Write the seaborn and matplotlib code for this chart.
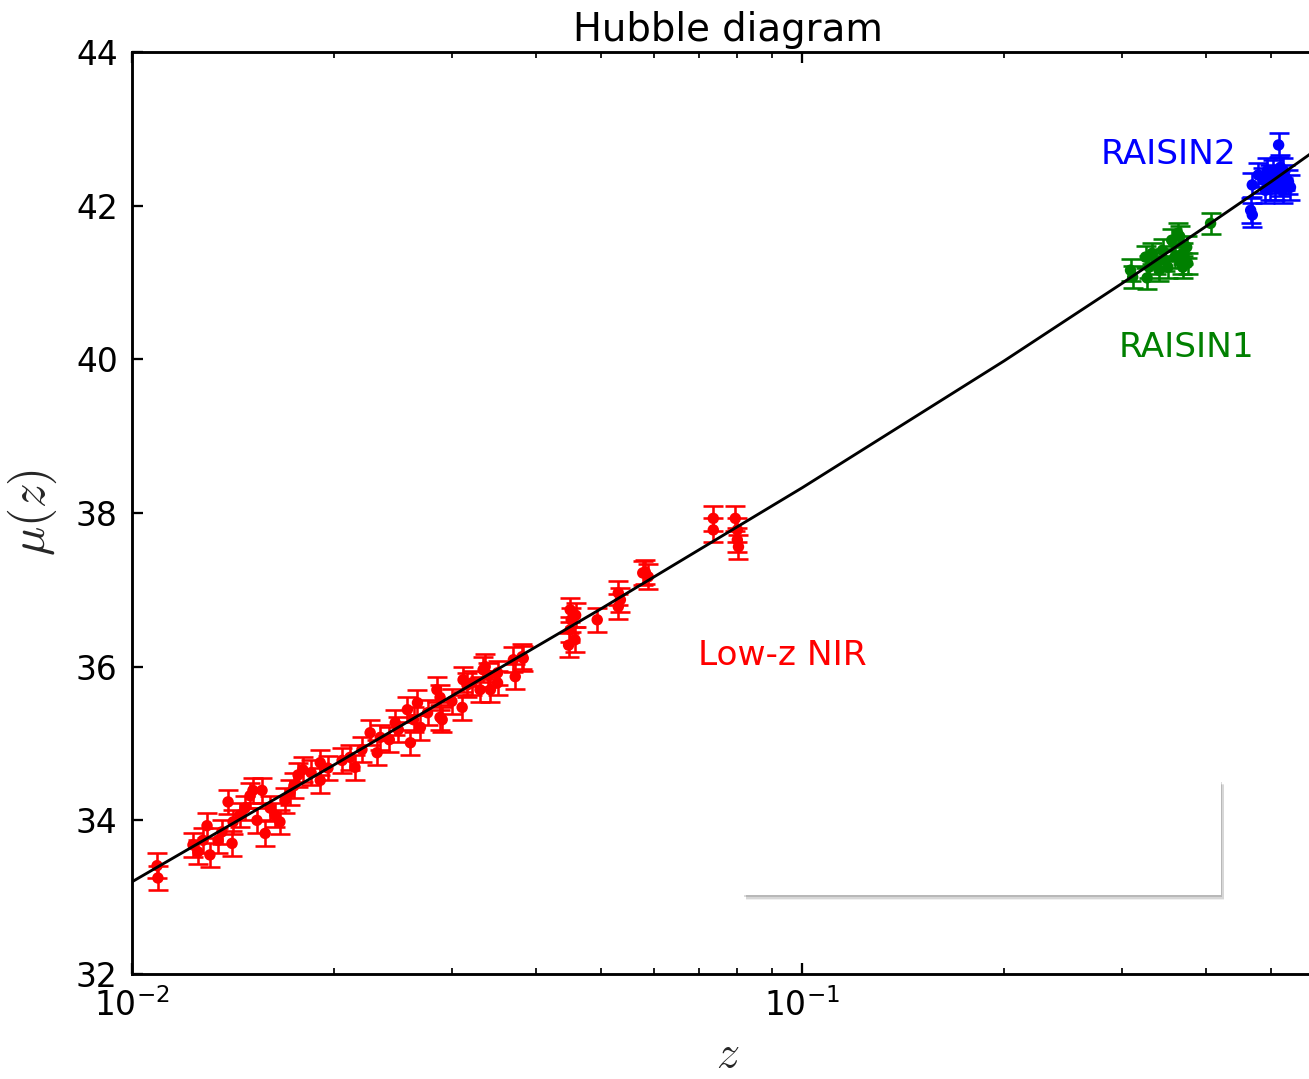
import numpy as np
import pandas as pd
import matplotlib
matplotlib.use("Agg")
import matplotlib.pyplot as plt
import matplotlib.patheffects as pe
from matplotlib.patches import Rectangle
from matplotlib.ticker import NullFormatter, FixedLocator
import seaborn as sns

# ---- Low-z NIR sample ----
lowz_z = [0.01090, 0.01093, 0.01233, 0.01254, 0.01276, 0.01294, 0.01307, 0.01344,
          0.01362, 0.01391, 0.01410, 0.01415, 0.01449, 0.01474, 0.01500, 0.01515,
          0.01536, 0.01563, 0.01580, 0.01607, 0.01634, 0.01662, 0.01691, 0.01721,
          0.01744, 0.01769, 0.01798, 0.01909, 0.01909, 0.02058, 0.02115, 0.02151,
          0.02203, 0.02266, 0.02321, 0.02346, 0.02470, 0.02496, 0.02575, 0.02602,
          0.02630, 0.02666, 0.02693, 0.02850, 0.02881, 0.02902, 0.02881, 0.03108,
          0.03118, 0.03160, 0.03215, 0.03305, 0.03340, 0.03364, 0.03400, 0.03425,
          0.03510, 0.03510, 0.03706, 0.03730, 0.03820, 0.03834, 0.04505, 0.04520,
          0.04505, 0.04580, 0.04480, 0.04590, 0.04943, 0.05314, 0.05314, 0.05352,
          0.05831, 0.05890, 0.05780, 0.07364, 0.07364, 0.07943, 0.07998, 0.07998,
          0.08030, 0.01850, 0.01960, 0.02420, 0.02760, 0.03000]
lowz_mu = [33.41, 33.25, 33.68, 33.59, 33.74, 33.93, 33.55, 33.74,
           33.85, 34.24, 33.70, 33.98, 34.07, 34.16, 34.32, 34.39,
           34.00, 34.39, 33.83, 34.16, 34.07, 33.98, 34.26, 34.36,
           34.45, 34.59, 34.66, 34.75, 34.52, 34.78, 34.82, 34.69,
           34.92, 35.14, 34.88, 35.08, 35.27, 35.18, 35.44, 35.01,
           35.31, 35.53, 35.21, 35.70, 35.34, 35.31, 35.60, 35.47,
           35.83, 35.76, 35.79, 35.70, 35.96, 36.00, 35.89, 35.70,
           35.79, 35.92, 36.09, 35.87, 36.13, 36.11, 36.74, 36.61,
           36.48, 36.35, 36.28, 36.67, 36.61, 36.96, 36.78, 36.87,
           37.23, 37.17, 37.22, 37.93, 37.78, 37.93, 37.78, 37.65,
           37.56, 34.62, 34.68, 35.05, 35.40, 35.55]
lowz_err = 0.16

# ---- RAISIN1 ----
r1_z = [0.3087, 0.3110, 0.3250, 0.3268, 0.3291, 0.3325, 0.3371, 0.3405, 0.3446,
        0.3470, 0.3509, 0.3556, 0.3593, 0.3630, 0.3680, 0.3693, 0.3744, 0.3757,
        0.3693, 0.4064, 0.3655]
r1_mu = [41.16, 41.07, 41.33, 41.06, 41.20, 41.38, 41.25, 41.16, 41.42,
         41.29, 41.20, 41.55, 41.33, 41.64, 41.25, 41.38, 41.46, 41.25,
         41.20, 41.77, 41.60]
r1_err = 0.14

# ---- RAISIN2 ----
r2_z = [0.5134, 0.4664, 0.4690, 0.4690, 0.4788, 0.4873, 0.4940, 0.4992, 0.5044,
        0.5114, 0.5167, 0.5203, 0.5256, 0.5311, 0.5347, 0.4992, 0.5220, 0.5079,
        0.4906, 0.5167]
r2_mu = [42.79, 41.94, 41.88, 42.27, 42.40, 42.33, 42.46, 42.24, 42.44,
         42.33, 42.50, 42.20, 42.37, 42.31, 42.24, 42.37, 42.46, 42.24,
         42.20, 42.29]
r2_err = 0.16

# ---- cosmological model curve ----
model_z = [0.01, 0.02, 0.05, 0.1, 0.2, 0.3, 0.4, 0.5, 0.6, 0.7]
model_mu = [33.20, 34.72, 36.75, 38.33, 39.98, 40.99, 41.73, 42.31, 42.80, 43.21]

sample_names = ["Low-z NIR", "RAISIN1", "RAISIN2"]
sample_colors = ["#ff0000", "#008000", "#0000ff"]

sns.set_style("ticks")
plt.rcParams.update({
    "font.family": ["DejaVu Sans"],
    "mathtext.fontset": "cm",
    "axes.linewidth": 1.0,
    "axes.edgecolor": "black",
    "xtick.color": "black",
    "ytick.color": "black",
    "text.color": "black",
})

df = pd.concat([
    pd.DataFrame({"z": lowz_z, "mu": lowz_mu, "err": lowz_err, "sample": sample_names[0]}),
    pd.DataFrame({"z": r1_z, "mu": r1_mu, "err": r1_err, "sample": sample_names[1]}),
    pd.DataFrame({"z": r2_z, "mu": r2_mu, "err": r2_err, "sample": sample_names[2]}),
], ignore_index=True)
palette = dict(zip(sample_names, sample_colors))

W, H, DPI = 1309, 1079, 206
fig = plt.figure(figsize=(W / DPI, H / DPI), dpi=DPI)
ax = fig.add_axes([132 / W, 105 / H, 1192 / W, 922 / H])

# error bars per sample
for name in sample_names:
    sub = df[df["sample"] == name]
    ax.errorbar(sub["z"], sub["mu"], yerr=sub["err"], fmt="none",
                ecolor=palette[name], elinewidth=0.9, capsize=3.5, capthick=0.9,
                zorder=2)

sns.scatterplot(data=df, x="z", y="mu", hue="sample", palette=palette,
                s=16, linewidth=0, legend=False, ax=ax, zorder=3)

sns.lineplot(x=model_z, y=model_mu, color="black", lw=1.0, ax=ax,
             sort=False, zorder=5)

ax.set_xscale("log")
ax.set_xlim(0.01, 0.6)
ax.set_ylim(32, 44)
ax.yaxis.set_major_locator(FixedLocator([32, 34, 36, 38, 40, 42, 44]))
ax.xaxis.set_minor_formatter(NullFormatter())

ax.tick_params(which="both", direction="in", top=True, right=True,
               labelsize=11.5, pad=5)
ax.tick_params(which="major", length=4, width=0.8)
ax.tick_params(which="minor", length=2, width=0.6)

ax.set_title("Hubble diagram", fontsize=13.5, pad=4)
ax.set_xlabel(r"$z$", fontsize=16, labelpad=3)
ax.set_ylabel(r"$\mu(z)$", fontsize=17, labelpad=6)

ax.text(0.2786, 42.66, "RAISIN2", color="#0000ff", fontsize=12,
        ha="left", va="center")
ax.text(0.2962, 40.16, "RAISIN1", color="#008000", fontsize=12,
        ha="left", va="center")
ax.text(0.06997, 36.15, "Low-z NIR", color="#ff0000", fontsize=12,
        ha="left", va="center")

# empty framed box with soft drop shadow
box = Rectangle((0.5126, 0.0857), 0.4010, 0.1247, transform=ax.transAxes,
                facecolor="white", edgecolor="none", zorder=6,
                path_effects=[
                    pe.SimplePatchShadow(offset=(1.2, -1.8), shadow_rgbFace="k", alpha=0.06),
                    pe.SimplePatchShadow(offset=(0.9, -1.3), shadow_rgbFace="k", alpha=0.10),
                    pe.SimplePatchShadow(offset=(0.5, -0.8), shadow_rgbFace="k", alpha=0.14),
                    pe.Normal(),
                ])
ax.add_patch(box)

fig.savefig("out.png", dpi=DPI)
